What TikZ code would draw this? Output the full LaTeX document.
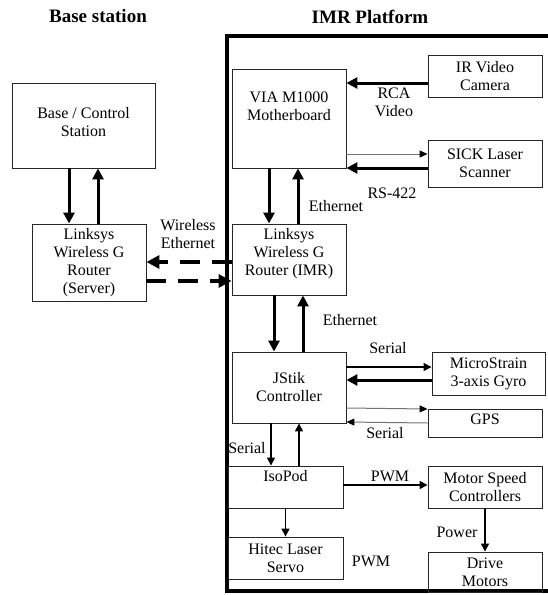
\documentclass[tikz,border=0pt]{standalone}
\usepackage{fontspec}
\setmainfont{Liberation Serif}
\usetikzlibrary{arrows.meta}

\begin{document}
\begin{tikzpicture}[x=1pt, y=-1pt,
    box/.style={draw=black!85, line width=0.9pt, align=center, inner sep=2pt, font=\fontsize{16}{18}\selectfont},
    lbl/.style={align=center, inner sep=0pt, font=\fontsize{16}{18}\selectfont},
    ttl/.style={inner sep=0pt, font=\fontsize{19}{22}\selectfont\bfseries},
    bigarr/.style={line width=3pt, -{Triangle[length=11pt,width=11pt]}},
    medarr/.style={line width=1.5pt, -{Triangle[length=8pt,width=8pt]}},
    thinarr/.style={line width=1pt, black!55, -{Triangle[length=8pt,width=7pt,color=black]}},
    wifi/.style={line width=4pt, dash pattern=on 20pt off 12pt, -{Triangle[length=13pt,width=13pt]}}]
  \useasboundingbox (0,0) rectangle (548,595);

  % titles
  \node[ttl] (tbase) at (98,16) {Base station};
  \node[ttl] (timr) at (370,17) {IMR Platform};

  % platform frame
  \draw[line width=4pt] (552,36) -- (227,36) -- (227,591) -- (552,591);

  % base side
  \node[box, minimum width=143pt, minimum height=85pt, text depth=8pt] (base) at (83.5,125.5) {Base / Control\\Station};
  \node[box, minimum width=114pt, minimum height=77pt] (srv) at (89,262.5) {Linksys\\Wireless G\\Router\\(Server)};

  % IMR side
  \node[box, minimum width=114pt, minimum height=99pt, text depth=24pt] (via) at (289,118.5) {VIA M1000\\Motherboard};
  \node[box, minimum width=114pt, minimum height=42pt] (ir) at (485,76) {IR Video\\Camera};
  \node[box, minimum width=114pt, minimum height=47pt] (sick) at (485,163.5) {SICK Laser\\Scanner};
  \node[box, minimum width=114pt, minimum height=71pt, text depth=16pt] (imr) at (289,259.5) {Linksys\\Wireless G\\Router (IMR)};
  \node[box, minimum width=114pt, minimum height=71pt] (jstik) at (289,387.5) {JStik\\Controller};
  \node[box, minimum width=113pt, minimum height=43pt] (ms) at (488.5,373.5) {MicroStrain\\3-axis Gyro};
  \node[box, minimum width=114pt, minimum height=28pt, text depth=8pt] (gps) at (485,423) {GPS};
  \node[box, minimum width=115pt, minimum height=42pt, text depth=22pt] (iso) at (285.5,487) {IsoPod};
  \node[box, minimum width=114pt, minimum height=42pt] (msc) at (485,487) {Motor Speed\\Controllers};
  \node[box, minimum width=115pt, minimum height=42pt] (hitec) at (285.5,558) {Hitec Laser\\Servo};
  \node[box, minimum width=114pt, minimum height=40pt] (drive) at (485,572) {Drive\\Motors};

  % connectors
  \draw[bigarr] ([xshift=-14.5pt]base.south) -- ([xshift=-20pt]srv.north);
  \draw[bigarr] ([xshift=9pt]srv.north) -- ([xshift=14.5pt]base.south);
  \draw[wifi] ([yshift=-2.5pt]imr.west) -- ([yshift=0.5pt]srv.east);
  \draw[wifi] ([yshift=-18.5pt]srv.east) -- ([yshift=-21.5pt]imr.west);
  \draw[bigarr] ([yshift=-7pt]ir.west) -- ([yshift=35.5pt]via.east);
  \draw[thinarr] ([yshift=-35.5pt]via.east) -- ([yshift=9.5pt]sick.west);
  \draw[bigarr] ([yshift=-4.5pt]sick.west) -- ([yshift=-49.5pt]via.east);
  \draw[bigarr] ([xshift=-20pt]via.south) -- ([xshift=-20pt]imr.north);
  \draw[bigarr] ([xshift=9pt]imr.north) -- ([xshift=9pt]via.south);
  \draw[bigarr] ([xshift=-15pt]imr.south) -- ([xshift=-15pt]jstik.north);
  \draw[bigarr] ([xshift=14pt]jstik.north) -- ([xshift=14pt]imr.south);
  \draw[medarr] ([yshift=20.5pt]jstik.east) -- ([yshift=6.5pt]ms.west);
  \draw[bigarr] ([yshift=-6.5pt]ms.west) -- ([yshift=7.5pt]jstik.east);
  \draw[thinarr] ([yshift=-20.5pt]jstik.east) -- ([yshift=14pt]gps.west);
  \draw[thinarr] (gps.west) -- ([yshift=-34.5pt]jstik.east);
  \draw[medarr] ([xshift=-18pt]jstik.south) -- ([xshift=-14.5pt]iso.north);
  \draw[medarr] ([xshift=13.5pt]iso.north) -- ([xshift=10pt]jstik.south);
  \draw[medarr] ([yshift=2pt]iso.east) -- ([yshift=2pt]msc.west);
  \draw[medarr] (iso.south) -- (hitec.north);
  \draw[medarr] (msc.south) -- (drive.north);

  % connector labels
  \node[lbl] (lwifi) at (188,234) {Wireless\\Ethernet};
  \node[lbl] (lrca) at (394,102.5) {RCA\\Video};
  \node[lbl] (lrs) at (392,193) {RS-422};
  \node[lbl] (leth1) at (336,206) {Ethernet};
  \node[lbl] (leth2) at (350,320) {Ethernet};
  \node[lbl] (lser1) at (388,348) {Serial};
  \node[lbl] (lser2) at (385,433) {Serial};
  \node[lbl] (lser3) at (247,448) {Serial};
  \node[lbl] (lpwm1) at (390,476) {PWM};
  \node[lbl] (lpow) at (457,532) {Power};
  \node[lbl] (lpwm2) at (371,561) {PWM};
\end{tikzpicture}
\end{document}
